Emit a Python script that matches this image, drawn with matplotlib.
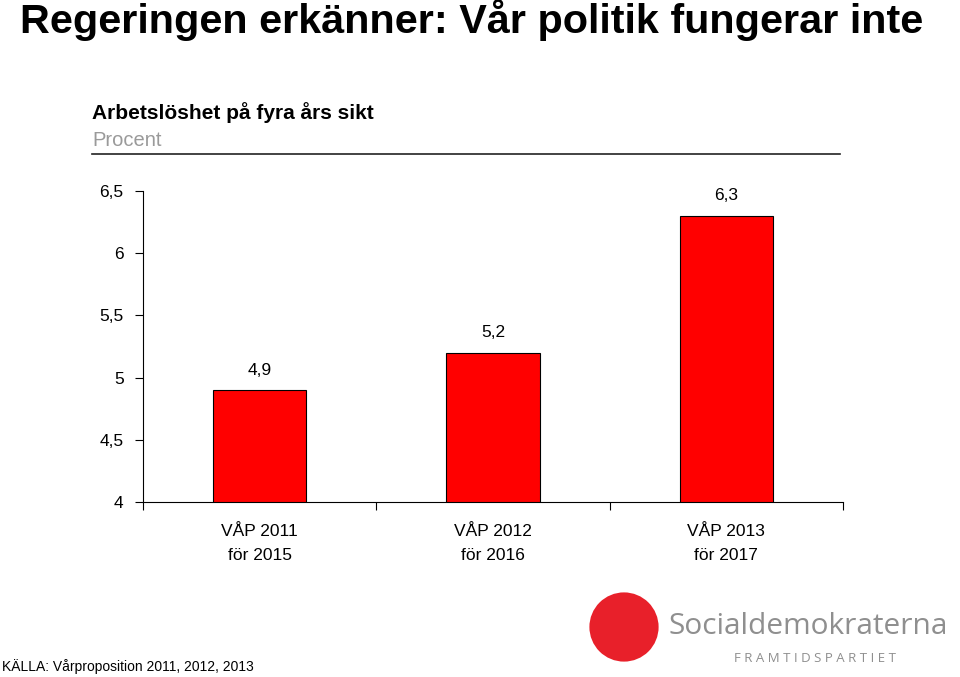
import matplotlib
matplotlib.use("Agg")
import matplotlib.pyplot as plt
from matplotlib.patches import Ellipse

# chart data
categories = ["VÅP 2011\nför 2015", "VÅP 2012\nför 2016", "VÅP 2013\nför 2017"]
values = [4.9, 5.2, 6.3]
value_labels = ["4,9", "5,2", "6,3"]
y_ticks = [4, 4.5, 5, 5.5, 6, 6.5]
y_tick_labels = ["4", "4,5", "5", "5,5", "6", "6,5"]

plt.rcParams["font.family"] = ["Liberation Sans", "DejaVu Sans"]

fig = plt.figure(figsize=(9.6, 6.77), dpi=100)
ax = fig.add_axes([143 / 960, 1 - 502 / 677, 700 / 960, 311 / 677])

x = list(range(len(categories)))
ax.bar(x, values, width=0.4, bottom=0, color="#ff0000", edgecolor="black", linewidth=0.8, zorder=2)
for xi, v, lab in zip(x, values, value_labels):
    ax.annotate(lab, (xi, v), xytext=(0, 9), textcoords="offset points",
                ha="center", va="bottom", fontsize=12.5)

ax.set_xlim(-0.5, 2.5)
ax.set_ylim(4, 6.5)
ax.set_yticks(y_ticks)
ax.set_yticklabels(y_tick_labels, fontsize=12.5)
# category labels centered, tick marks on boundaries
ax.set_xticks([-0.5, 0.5, 1.5, 2.5])
ax.set_xticklabels([])
ax.set_xticks(x, minor=True)
ax.set_xticklabels(categories, minor=True, fontsize=12.5, linespacing=1.75)
ax.tick_params(axis="x", which="minor", length=0, pad=16)
ax.tick_params(axis="x", which="major", direction="out", length=6)
ax.tick_params(axis="y", direction="out", length=6, pad=8)
for s in ["top", "right"]:
    ax.spines[s].set_visible(False)

# titles
fig.text(20 / 960, 1 - 20 / 677, "Regeringen erkänner: Vår politik fungerar inte",
         fontsize=29.8, fontweight="bold", va="center", ha="left")
fig.text(92 / 960, 1 - 113 / 677, "Arbetslöshet på fyra års sikt",
         fontsize=15, fontweight="bold", va="center", ha="left")
fig.text(92 / 960, 1 - 140 / 677, "Procent", fontsize=14.5, color="#9a9a9a",
         va="center", ha="left")
fig.add_artist(plt.Line2D([92 / 960, 840 / 960], [1 - 154 / 677, 1 - 154 / 677],
                          color="#222222", linewidth=1.2))

# source
fig.text(2 / 960, 1 - 667 / 677, "KÄLLA: Vårproposition 2011, 2012, 2013",
         fontsize=10, va="center", ha="left")

# logo (approximation)
fig.add_artist(Ellipse((624 / 960, 1 - 627 / 677), 72 / 960, 72 / 677,
                       transform=fig.transFigure, facecolor="#e8202a",
                       edgecolor="white", linewidth=2))
fig.text(669 / 960, 1 - 626 / 677, "Socialdemokraterna", fontsize=21.5,
         color="#8f8f8f", va="center", ha="left", family=["Open Sans", "DejaVu Sans"])
fig.text(815 / 960, 1 - 659 / 677, "F R A M T I D S P A R T I E T", fontsize=9.5,
         color="#8f8f8f", va="center", ha="center", family=["Open Sans", "DejaVu Sans"])

fig.savefig("out.png", dpi=100)
